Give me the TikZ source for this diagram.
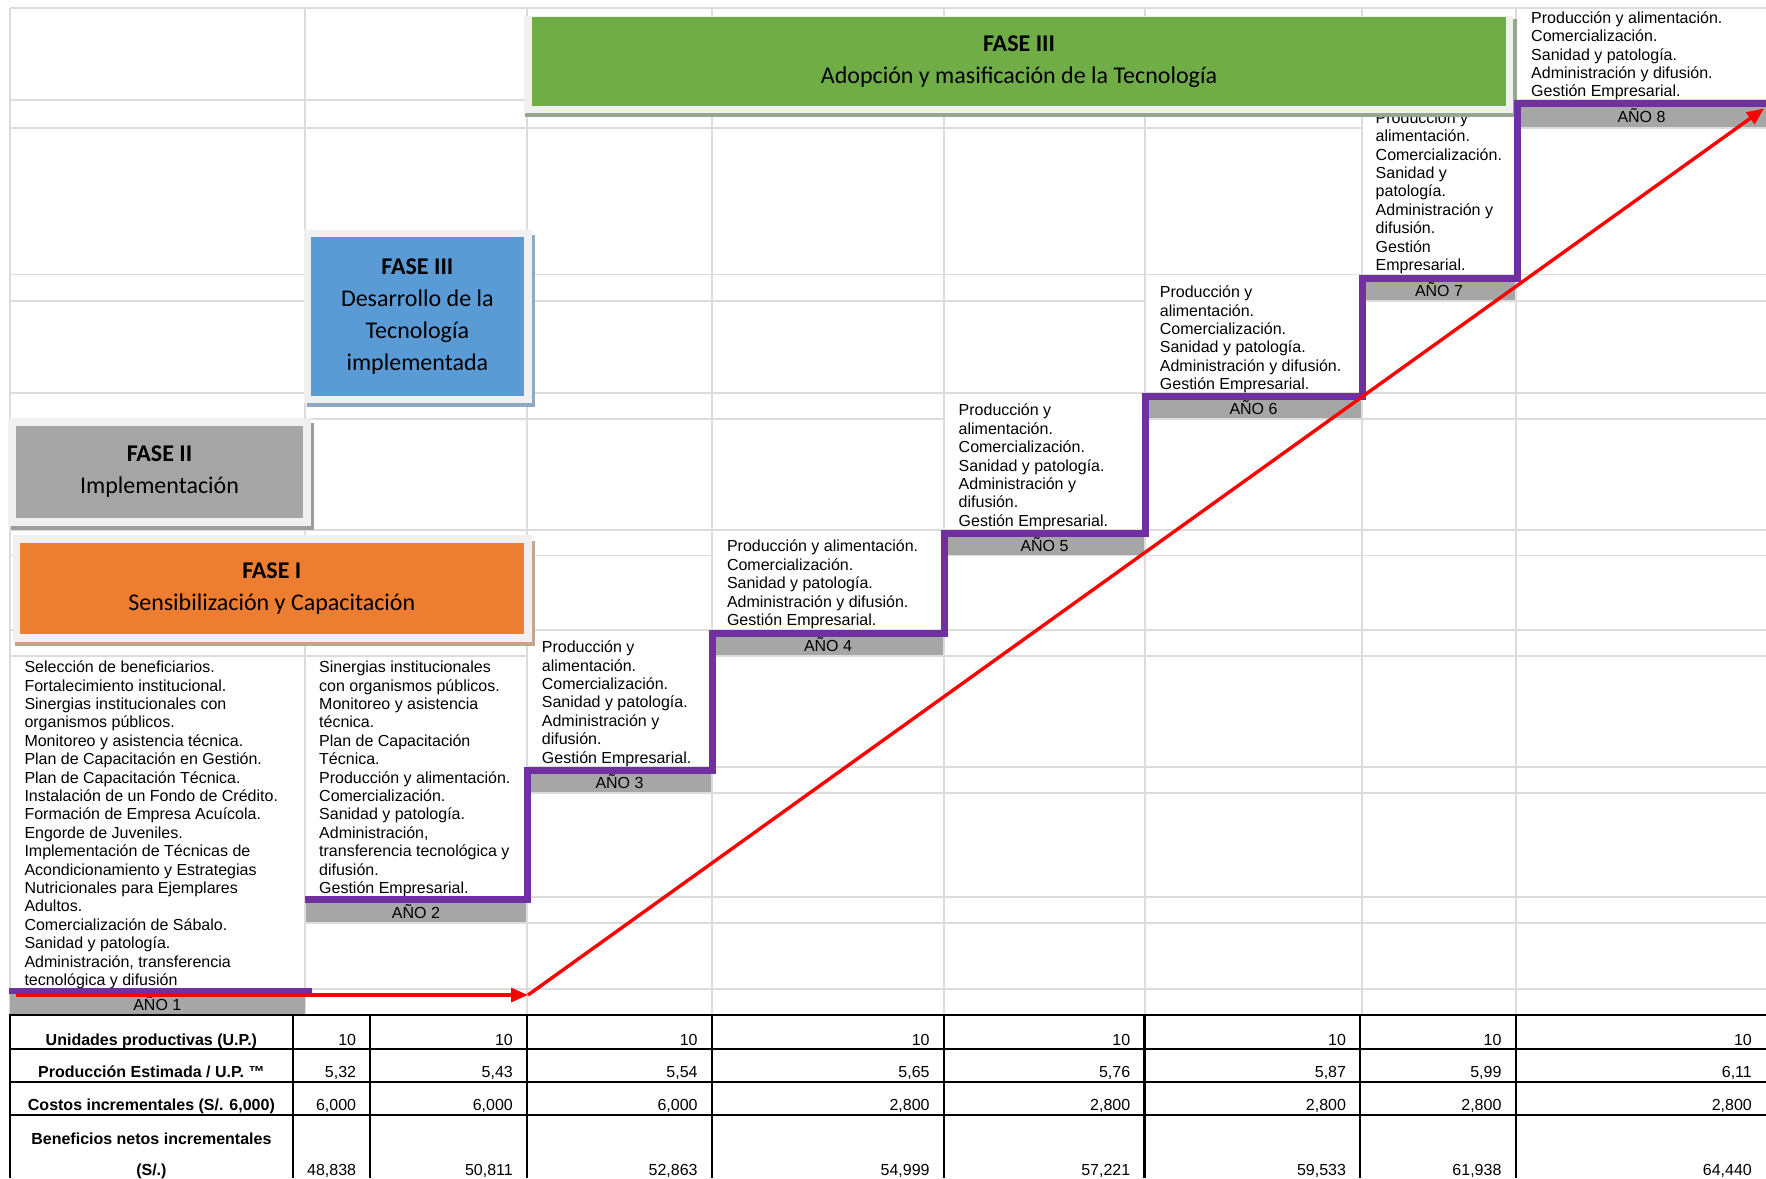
\documentclass[tikz,border=0pt]{standalone}
\usepackage{fontspec}
\setmainfont{Liberation Sans}
\newfontfamily\boxfont{Carlito}
\usetikzlibrary{arrows.meta}
\definecolor{gridc}{HTML}{DCDCDC}
\definecolor{bandc}{HTML}{A6A6A6}
\definecolor{purp}{HTML}{7030A0}
\definecolor{fgreen}{HTML}{70AD47}
\definecolor{fblue}{HTML}{5B9BD5}
\definecolor{fgray}{HTML}{A5A5A5}
\definecolor{forange}{HTML}{ED7D31}
\definecolor{framec}{HTML}{F0F0F0}
\definecolor{shorange}{HTML}{C9A38A}
\definecolor{shgray}{HTML}{9E9E9E}
\definecolor{shblue}{HTML}{8FA8C4}
\definecolor{shgreen}{HTML}{96A690}
\tikzset{
 gridline/.style={draw=gridc, line width=1.8pt},
 tabline/.style={draw=black, line width=2.2pt},
 cell/.style={anchor=north west, inner sep=0pt, align=left, font=\fontsize{16}{18.4}\selectfont},
 yearband/.style={fill=bandc, inner sep=0pt, text height=13.5pt, text depth=0pt, font=\fontsize{16}{18.4}\selectfont},
 phase/.style={inner sep=0pt, align=center, font=\boxfont\fontsize{24}{32}\selectfont},
 stair/.style={draw=purp, line width=7pt, line join=miter},
 trend/.style={draw=red, line width=3.4pt, -{Triangle[length=17pt,width=14pt]}},
 lab/.style={anchor=base, inner sep=0pt, font=\bfseries\fontsize{16}{18.4}\selectfont},
 val/.style={anchor=base east, inner sep=0pt, font=\fontsize{16}{18.4}\selectfont},
}
\begin{document}
\begin{tikzpicture}[x=1pt,y=-1pt]
\useasboundingbox (0,0) rectangle (1766,1178);
\fill[white] (0,0) rectangle (1766,1178);
% grid
\foreach \y in {8.3,100,127.7,274.5,300.7,392.7,418.7,529.7,555.5,630,655.7,766.7,792.7,896.7,922.7,989}
  \draw[gridline] (10,\y) -- (1766,\y);
\foreach \x in {10,305,527,712,944,1145,1362,1516}
  \draw[gridline] (\x,8.3) -- (\x,1015);
% merged cells
\fill[white] (11.2,656.8) rectangle (303.8,987.9);
\fill[white] (306.2,656.8) rectangle (525.8,895.6);
\fill[white] (528.2,631.1) rectangle (710.8,765.6);
\fill[white] (713.2,530.8) rectangle (942.8,628.9);
\fill[white] (945.2,393.8) rectangle (1143.8,528.6);
\fill[white] (1146.2,275.6) rectangle (1360.8,391.6);
\fill[white] (1363.2,101.1) rectangle (1514.8,273.4);
\fill[white] (1517.2,9.4) rectangle (1766,98.9);
% year bands
\node[yearband, minimum width=294.5, minimum height=21] (a1) at (157.3,1003.5) {AÑO 1};
\node[yearband, minimum width=220, minimum height=19.7] (a2) at (416,911.9) {AÑO 2};
\node[yearband, minimum width=183, minimum height=19.7] (a3) at (619.5,781.9) {AÑO 3};
\node[yearband, minimum width=230, minimum height=19.5] (a4) at (828,645.2) {AÑO 4};
\node[yearband, minimum width=199, minimum height=19.5] (a5) at (1044.5,544.8) {AÑO 5};
\node[yearband, minimum width=215, minimum height=19.7] (a6) at (1253.5,407.9) {AÑO 6};
\node[yearband, minimum width=152, minimum height=20] (a7) at (1439,290) {AÑO 7};
\node[yearband, minimum width=249, minimum height=21.2] (a8) at (1641.5,116.1) {AÑO 8};
% texts
\node[cell] (t1) at (24.3,659.6) {\strut Selección de beneficiarios.\\ Fortalecimiento institucional.\\ Sinergias institucionales con\\ organismos públicos.\\ Monitoreo y asistencia técnica.\\ Plan de Capacitación en Gestión.\\ Plan de Capacitación Técnica.\\ Instalación de un Fondo de Crédito.\\ Formación de Empresa Acuícola.\\ Engorde de Juveniles.\\ Implementación de Técnicas de\\ Acondicionamiento y Estrategias\\ Nutricionales para Ejemplares\\ Adultos.\\ Comercialización de Sábalo.\\ Sanidad y patología.\\ Administración, transferencia\\ tecnológica y difusión};
\node[cell] (t2) at (319,659.6) {\strut Sinergias institucionales\\ con organismos públicos.\\ Monitoreo y asistencia\\ técnica.\\ Plan de Capacitación\\ Técnica.\\ Producción y alimentación.\\ Comercialización.\\ Sanidad y patología.\\ Administración,\\ transferencia tecnológica y\\ difusión.\\ Gestión Empresarial.};
\node[cell] (t3) at (541.7,639.6) {\strut Producción y\\ alimentación.\\ Comercialización.\\ Sanidad y patología.\\ Administración y\\ difusión.\\ Gestión Empresarial.};
\node[cell] (t4) at (726.8,538.9) {\strut Producción y alimentación.\\ Comercialización.\\ Sanidad y patología.\\ Administración y difusión.\\ Gestión Empresarial.};
\node[cell] (t5) at (958.5,402.9) {\strut Producción y\\ alimentación.\\ Comercialización.\\ Sanidad y patología.\\ Administración y\\ difusión.\\ Gestión Empresarial.};
\node[cell] (t6) at (1159.7,284.6) {\strut Producción y\\ alimentación.\\ Comercialización.\\ Sanidad y patología.\\ Administración y difusión.\\ Gestión Empresarial.};
\node[cell] (t7) at (1375.5,110.2) {\strut Producción y\\ alimentación.\\ Comercialización.\\ Sanidad y\\ patología.\\ Administración y\\ difusión.\\ Gestión\\ Empresarial.};
\node[cell] (t8) at (1531,10.2) {\strut Producción y alimentación.\\ Comercialización.\\ Sanidad y patología.\\ Administración y difusión.\\ Gestión Empresarial.};
% phase boxes
\fill[shgreen] (525,19) rectangle (1516.5,116.5);
\fill[framec] (524,15.5) rectangle (1513,113);
\node[phase, fill=fgreen, minimum width=974, minimum height=88.7] (p3b) at (1019,61.65) {\textbf{FASE III}\\Adopción y masificación de la Tecnología};
\fill[shblue] (306.6,235) rectangle (535,407);
\fill[framec] (303.6,230) rectangle (532,403.3);
\node[phase, fill=fblue, minimum width=213.3, minimum height=158.4] (p3a) at (417.35,316.5) {\textbf{FASE III}\\Desarrollo de la\\Tecnología\\implementada};
\fill[shgray] (11,423) rectangle (313.7,530);
\fill[framec] (8,418.3) rectangle (310.7,526);
\node[phase, fill=fgray, minimum width=287, minimum height=91.7] (p2) at (159.5,471.85) {\textbf{FASE II}\\Implementación};
\fill[shorange] (15,541) rectangle (535,646);
\fill[framec] (12.5,535) rectangle (532,641.7);
\node[phase, fill=forange, minimum width=504.4, minimum height=90.7] (p1) at (271.8,588.65) {\textbf{FASE I}\\Sensibilización y Capacitación};
% staircase
\draw[stair, line width=6pt] (9,990.5) -- (312,990.5);
\draw[stair] (305,899.7) -- (527,899.7) -- (527,770.3) -- (712,770.3) -- (712,633.3) -- (944,633.3) -- (944,533) -- (1145,533) -- (1145,396.5) -- (1362,396.5) -- (1362,278.3) -- (1517,278.3) -- (1517,103.5) -- (1766,103.5);
% trend arrows
\coordinate (r0) at (16,995);
\coordinate (r1) at (528,995);
\coordinate (r2) at (1764,108.5);
\draw[trend] (r0) -- (r1);
\draw[trend] (r1) -- (r2);
% table
\foreach \y in {1015,1049.3,1081.7,1115}
  \draw[tabline] (8.9,\y) -- (1766,\y);
\foreach \x in {10,292.8,370.3,527,711.8,943.8,1144.4,1360.2,1515.6}
  \draw[tabline] (\x,1015) -- (\x,1178);
\node[lab] (l1) at (151.4,1045) {Unidades productivas (U.P.)};
\node[lab] (l2) at (151.4,1077.5) {Producción Estimada / U.P. ™};
\node[lab] (l3) at (151.4,1110) {Costos incrementales (S/. 6,000)};
\node[lab] (l4) at (151.4,1144) {Beneficios netos incrementales};
\node[lab] (l5) at (151.4,1175.7) {(S/.)};
\foreach \xr/\a/\b/\c/\d [count=\i] in {
370.3/10/5{,}32/6{,}000/48{,}838,
527/10/5{,}43/6{,}000/50{,}811,
711.8/10/5{,}54/6{,}000/52{,}863,
943.8/10/5{,}65/2{,}800/54{,}999,
1144.4/10/5{,}76/2{,}800/57{,}221,
1360.2/10/5{,}87/2{,}800/59{,}533,
1515.6/10/5{,}99/2{,}800/61{,}938,
1766/10/6{,}11/2{,}800/64{,}440}
{
  \node[val] (ua\i) at ({\xr-14},1045) {\a};
  \node[val] (ub\i) at ({\xr-14},1077.5) {\b};
  \node[val] (uc\i) at ({\xr-14},1110) {\c};
  \node[val] (ud\i) at ({\xr-14},1175.7) {\d};
}
\end{tikzpicture}
\end{document}
